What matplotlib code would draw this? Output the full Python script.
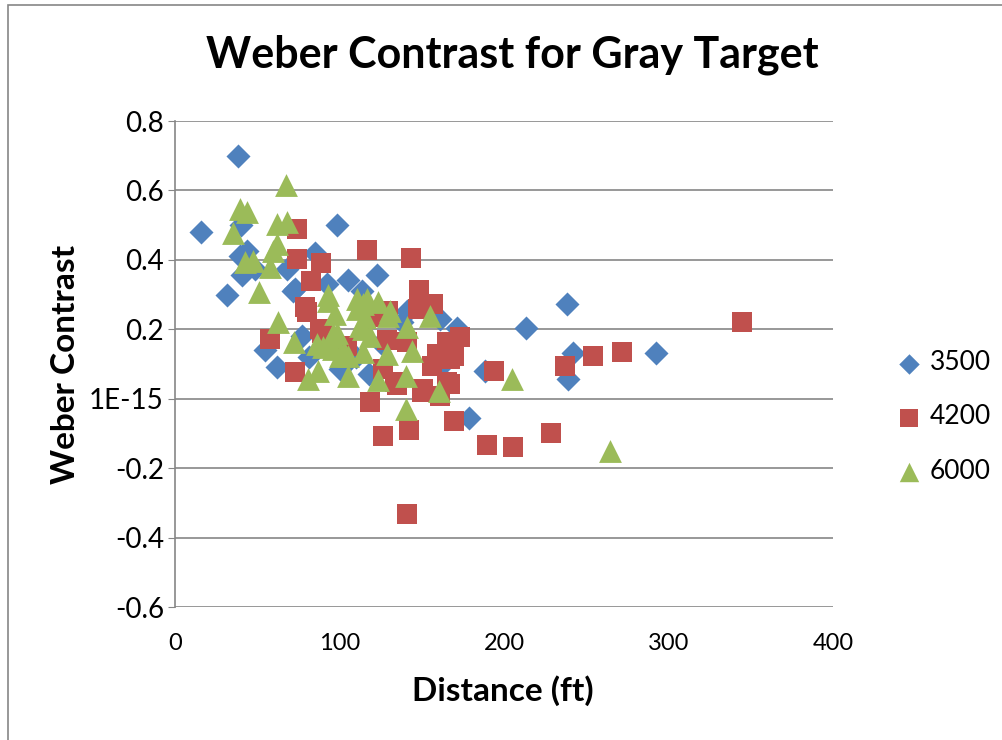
import matplotlib.pyplot as plt
from matplotlib.patches import Rectangle

# 3500 series (diamonds)
x3500 = [15.8, 31.6, 38.3, 40.0, 39.5, 40.7, 43.8, 48.6, 54.5, 62.0, 68.0, 71.7, 73.0,
         77.2, 81.5, 85.0, 92.4, 98.5, 100.3, 101.5, 105.0, 110.0, 113.7, 118.0, 122.5,
         125.0, 138.0, 141.0, 143.0, 161.0, 162.0, 171.4, 179.0, 188.5, 213.4, 238.3,
         238.9, 241.9, 292.4]
y3500 = [0.48, 0.30, 0.70, 0.50, 0.41, 0.355, 0.425, 0.373, 0.14, 0.09, 0.373, 0.31, 0.316,
         0.18, 0.12, 0.42, 0.33, 0.50, 0.085, 0.09, 0.343, 0.12, 0.31, 0.07, 0.355,
         0.16, 0.22, 0.252, 0.258, 0.23, 0.094, 0.205, -0.056, 0.08, 0.203, 0.272,
         0.056, 0.131, 0.131]

# 4200 series (squares)
x4200 = [57.8, 73.0, 74.0, 74.0, 79.0, 80.2, 82.7, 88.7, 88.0, 89.4, 102.0, 104.6, 116.7,
         118.5, 122.8, 126.4, 126.4, 129.0, 129.5, 134.0, 135.0, 141.0, 141.0, 142.2,
         143.5, 147.7, 148.3, 150.0, 151.0, 156.0, 156.8, 159.3, 161.0, 165.3, 165.3,
         167.0, 167.0, 169.6, 169.6, 173.3, 189.6, 193.9, 205.5, 228.6, 237.0, 254.0,
         271.7, 344.7]
y4200 = [0.172, 0.077, 0.49, 0.402, 0.264, 0.249, 0.339, 0.39, 0.20, 0.19, 0.143, 0.152, 0.428,
         -0.01, 0.235, 0.085, -0.108, 0.17, 0.252, 0.048, 0.04, 0.162, -0.332, -0.09,
         0.405, 0.258, 0.313, 0.019, 0.028, 0.094, 0.273, 0.128, 0.008, 0.162, 0.048,
         0.042, 0.115, 0.122, -0.064, 0.177, -0.134, 0.079, -0.14, -0.10, 0.094, 0.122,
         0.134, 0.22]

# 6000 series (triangles)
x6000 = [35.3, 39.5, 43.8, 42.6, 47.4, 51.0, 57.8, 59.6, 62.0, 62.0, 62.6, 67.5, 68.0,
         72.3, 80.8, 86.3, 87.0, 90.0, 93.0, 93.0, 95.4, 96.0, 96.0, 97.3, 98.5, 100.3,
         103.0, 105.0, 105.0, 110.6, 110.6, 112.5, 114.3, 114.3, 114.0, 115.5, 116.7,
         118.5, 123.4, 123.4, 129.0, 129.5, 130.7, 140.4, 140.4, 141.0, 144.0, 155.0,
         160.5, 205.0, 264.5]
y6000 = [0.477, 0.546, 0.537, 0.393, 0.397, 0.307, 0.379, 0.425, 0.445, 0.503, 0.22, 0.615, 0.508,
         0.163, 0.056, 0.157, 0.08, 0.149, 0.30, 0.281, 0.178, 0.186, 0.143, 0.244, 0.19, 0.123,
         0.134, 0.123, 0.065, 0.287, 0.258, 0.209, 0.272, 0.20, 0.134, 0.235, 0.287,
         0.18, 0.278, 0.054, 0.128, 0.238, 0.252, 0.065, -0.03, 0.206, 0.137, 0.238,
         0.022, 0.056, -0.15]

yticks = [-0.6, -0.4, -0.2, 0.0, 0.2, 0.4, 0.6, 0.8]
ytick_labels = ['-0.6', '-0.4', '-0.2', '1E-15', '0.2', '0.4', '0.6', '0.8']
xticks = [0, 100, 200, 300, 400]

plt.rcParams['font.family'] = ['Lato', 'DejaVu Sans']

fig = plt.figure(figsize=(10.03, 7.40), dpi=100)
ax = fig.add_axes([175/1003, 133/740, 658/1003, 486/740])

# chart area border
fig.patches.append(Rectangle((8/1003, -0.1), 1.2, 1 - 5/740 + 0.1, transform=fig.transFigure,
                             fill=False, edgecolor='#868686', linewidth=1.2))

ax.scatter(x3500, y3500, marker='D', s=150, color='#4F81BD', label='3500', zorder=3, linewidths=0)
ax.scatter(x4200, y4200, marker='s', s=210, color='#C0504D', label='4200', zorder=3, linewidths=0)
ax.scatter(x6000, y6000, marker='^', s=270, color='#9BBB59', label='6000', zorder=3, linewidths=0)

ax.set_xlim(0, 400)
ax.set_ylim(-0.6, 0.8)
ax.set_xticks(xticks)
ax.set_yticks(yticks)
ax.set_yticklabels(ytick_labels)
ax.grid(axis='y', color='#868686', linewidth=1.2)
ax.set_axisbelow(True)
for side in ['top', 'right', 'bottom']:
    ax.spines[side].set_visible(False)
ax.spines['left'].set_color('#868686')
ax.spines['left'].set_linewidth(1.2)
ax.tick_params(axis='y', length=5, color='#868686', labelsize=20, pad=3)
ax.tick_params(axis='x', length=0, labelsize=17, pad=19)

ax.set_xlabel('Distance (ft)', fontsize=24, fontweight='bold')
ax.set_ylabel('Weber Contrast', fontsize=24, fontweight='bold')
ax.xaxis.set_label_coords(0.498, -0.14)
ax.yaxis.set_label_coords(-0.144, 0.5)

fig.text(0.511, 0.926, 'Weber Contrast for Gray Target', fontsize=31, fontweight='bold',
         ha='center', va='center')

fig.legend(loc='center left', bbox_to_anchor=(893/1003, 1 - 417/740), frameon=False,
           fontsize=19, handletextpad=0.2, labelspacing=1.1, markerscale=0.85,
           borderpad=0, borderaxespad=0, handlelength=1.2)

fig.savefig('out.png', dpi=100)
